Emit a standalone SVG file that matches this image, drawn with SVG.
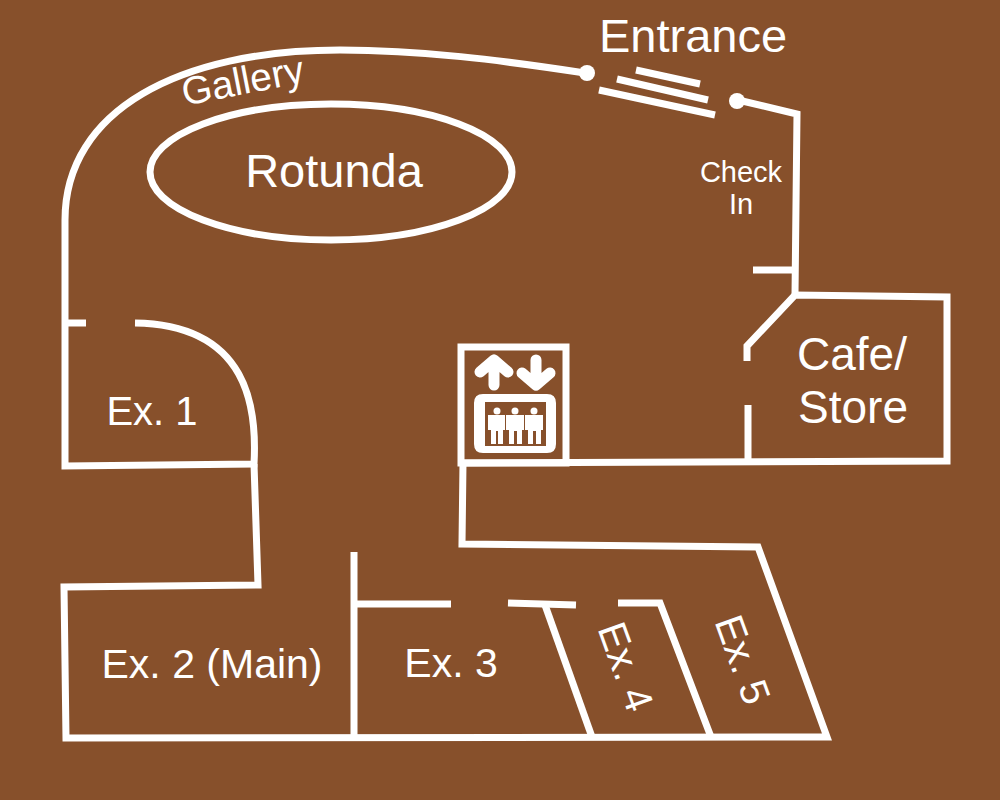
<svg xmlns="http://www.w3.org/2000/svg" width="1000" height="800" viewBox="0 0 1000 800">
<style>
.w{fill:none;stroke:#fff;stroke-width:7;stroke-linejoin:miter}
.t{fill:#fff;font-family:"Liberation Sans",Arial,sans-serif;text-anchor:middle}
</style>
<rect width="1000" height="800" fill="#87502b"/>
<g class="w">
<path d="M585 73C500 60 420 50 340 50C180 50 65 110 65 220V466L254 464C257 410 250 325 135 323"/>
<path d="M65 323H86"/>
<path d="M254 464L258 585L64 587L66 738L827 737L758 547L462 544L463 463L947 461V297L795 295L747 346V361"/>
<path d="M748 405V463"/>
<path d="M795 295L797 114L738 100"/>
<path d="M753 270H797"/>
<path d="M354 552V738"/>
<path d="M354 604H451"/>
<path d="M508 603L576 605"/>
<path d="M545 605L592 737"/>
<path d="M618 603H660L711 737"/>
<ellipse cx="331" cy="172" rx="181" ry="68"/>
<path d="M599 90L715 115"/>
<path d="M617 79L708 100"/>
<path d="M636 70L700 84"/>
<rect x="461" y="347" width="105" height="116"/>
</g>
<g fill="#fff">
<circle cx="587" cy="73" r="8"/>
<circle cx="737" cy="101" r="8"/>
</g>
<g id="elevator">
<g fill="none" stroke="#fff" stroke-width="11" stroke-linecap="round" stroke-linejoin="round">
<path d="M494 385V360M480 372L494 360L508 372"/>
<path d="M536 360V385M522 373L536 385L550 373"/>
</g>
<path fill="#fff" fill-rule="evenodd" d="M483 394H547Q556 394 556 403V444Q556 453 547 453H483Q474 453 474 444V403Q474 394 483 394ZM485 402V446H546V402Z"/>
<g fill="#fff">
<circle cx="497" cy="411" r="3.5"/><path d="M488 415H505V430H503V444H498V431H496V444H491V430H488Z"/>
<circle cx="515" cy="411" r="3.5"/><path d="M506 415H524V430H522V444H517V431H514V444H509V430H506Z"/>
<circle cx="534" cy="411" r="3.5"/><path d="M525 415H543V430H541V444H536V431H533V444H528V430H525Z"/>
</g>
</g>
<g class="t">
<text x="693" y="52" font-size="47">Entrance</text>
<text x="334" y="187" font-size="47">Rotunda</text>
<text transform="translate(244 88) rotate(-11)" font-size="39" dy="6">Gallery</text>
<text x="741" y="182" font-size="29">Check</text>
<text x="741" y="214" font-size="29">In</text>
<text x="852" y="370" font-size="46">Cafe/</text>
<text x="853" y="423" font-size="46">Store</text>
<text x="152" y="425" font-size="40">Ex. 1</text>
<text x="212" y="678" font-size="41">Ex. 2 (Main)</text>
<text x="451" y="677" font-size="41">Ex. 3</text>
<text transform="translate(625 667) rotate(70)" font-size="40" dy="13">Ex. 4</text>
<text transform="translate(742 660) rotate(70)" font-size="40" dy="13">Ex. 5</text>
</g>
</svg>
